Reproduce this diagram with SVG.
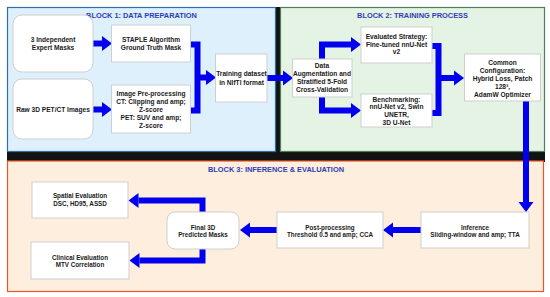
<svg xmlns="http://www.w3.org/2000/svg" width="550" height="297" viewBox="0 0 550 297">
<defs>
<style>
.t{font-family:"Liberation Sans",Arial,sans-serif;font-weight:bold;font-size:6.6px;fill:#1a1a1a;text-anchor:middle}
.s{font-size:6.3px}
.ttl{font-family:"Liberation Sans",Arial,sans-serif;font-weight:bold;font-size:7.4px;fill:#2e3cb8;text-anchor:middle}
.n{fill:#ffffff;stroke:#cfcfcf;stroke-width:1}
.c{fill:none;stroke:#0000ee;stroke-width:6;stroke-linejoin:miter}
</style>
<marker id="ah" markerUnits="userSpaceOnUse" markerWidth="10" markerHeight="15" refX="0" refY="7.5" orient="auto" overflow="visible">
<path d="M0,0 L10,7.5 L0,15 Z" fill="#0000ee"/>
</marker>
</defs>
<rect x="0" y="0" width="550" height="297" fill="#ffffff"/>
<rect x="7" y="7" width="538" height="155" fill="#121212"/>
<g id="block1">
<rect x="7.5" y="7.5" width="268" height="144" fill="#ddf0fb" stroke="#2f6fb0" stroke-width="1.2"/>
<text class="ttl" x="141.5" y="18">BLOCK 1: DATA PREPARATION</text>
</g>
<g id="block2">
<rect x="280.5" y="7.5" width="264" height="144" fill="#e5f3e5" stroke="#4f7d55" stroke-width="1.2"/>
<text class="ttl" x="412.5" y="18">BLOCK 2: TRAINING PROCESS</text>
</g>
<g id="block3">
<rect x="7.5" y="161" width="536" height="130.5" fill="#fdeedd" stroke="#e6582a" stroke-width="1.2"/>
<text class="ttl" x="276" y="172">BLOCK 3: INFERENCE &amp; EVALUATION</text>
</g>
<g id="connectors">
<path class="c" d="M93,43.5 H102" marker-end="url(#ah)"/>
<path class="c" d="M93,109.5 H102" marker-end="url(#ah)"/>
<path class="c" d="M190,44.5 H197.5 V110.5 H190"/>
<path class="c" d="M197.5,77.5 H206" marker-end="url(#ah)"/>
<path class="c" d="M267,78 H283" marker-end="url(#ah)"/>
<path class="c" d="M322,59 V44.5 H351" marker-end="url(#ah)"/>
<path class="c" d="M322,97 V110.5 H351" marker-end="url(#ah)"/>
<path class="c" d="M432,46 H438.5 V113 H432"/>
<path class="c" d="M438.5,78 H454" marker-end="url(#ah)"/>
<path class="c" d="M526,101 V202" stroke-width="5" marker-end="url(#ah)"/>
<path class="c" d="M421,230 H393" marker-end="url(#ah)"/>
<path class="c" d="M277,230 H250" marker-end="url(#ah)"/>
<path class="c" d="M202.5,212 V200.5 H138.5" marker-end="url(#ah)"/>
<path class="c" d="M202.5,248 V260.5 H139.5" marker-end="url(#ah)"/>
</g>
<g id="expert-masks">
<rect class="n" x="13" y="15" width="80" height="57" rx="9"/>
<text class="t" x="53" y="41.8">3 Independent</text>
<text class="t" x="53" y="50.1">Expert Masks</text>
</g>
<g id="raw-images">
<rect class="n" x="13" y="79" width="80" height="60" rx="9"/>
<text class="t" x="53" y="111.6">Raw 3D PET/CT Images</text>
</g>
<g id="staple">
<rect class="n" x="111.5" y="25" width="79" height="37"/>
<text class="t" x="151" y="41.8">STAPLE Algorithm</text>
<text class="t" x="151" y="50.1">Ground Truth Mask</text>
</g>
<g id="preprocessing">
<rect class="n" x="111.5" y="85" width="79" height="48"/>
<text class="t" x="151" y="96.4">Image Pre-processing</text>
<text class="t" x="151" y="104.3">CT: Clipping and amp;</text>
<text class="t" x="151" y="112.2">Z-score</text>
<text class="t" x="151" y="120.1">PET: SUV and amp;</text>
<text class="t" x="151" y="128">Z-score</text>
</g>
<g id="training-dataset">
<rect class="n" x="215.5" y="54" width="51.5" height="48"/>
<text class="t" x="241.5" y="76.4">Training dataset</text>
<text class="t" x="241.5" y="84.7">in NIfTI format</text>
</g>
<g id="data-augmentation">
<rect class="n" x="292.5" y="59" width="59.5" height="38"/>
<text class="t" x="322" y="68.4">Data</text>
<text class="t" x="322" y="76.4">Augmentation and</text>
<text class="t" x="322" y="84.4">Stratified 5-Fold</text>
<text class="t" x="322" y="92.4">Cross-Validation</text>
</g>
<g id="evaluated-strategy">
<rect class="n" x="361" y="27" width="71" height="36"/>
<text class="t" x="396.5" y="39">Evaluated Strategy:</text>
<text class="t" x="396.5" y="46.8">Fine-tuned nnU-Net</text>
<text class="t" x="396.5" y="54.4">v2</text>
</g>
<g id="benchmarking">
<rect class="n" x="361" y="94" width="71" height="33"/>
<text class="t" x="396.5" y="101.7">Benchmarking:</text>
<text class="t" x="396.5" y="109.3">nnU-Net v2, Swin</text>
<text class="t" x="396.5" y="117.3">UNETR,</text>
<text class="t" x="396.5" y="125.1">3D U-Net</text>
</g>
<g id="common-configuration">
<rect class="n" x="464.5" y="54" width="76" height="47"/>
<text class="t" x="502.5" y="64.7">Common</text>
<text class="t" x="502.5" y="72.7">Configuration:</text>
<text class="t" x="502.5" y="80.7">Hybrid Loss, Patch</text>
<text class="t" x="502.5" y="88.7">128³,</text>
<text class="t" x="502.5" y="96.7">AdamW Optimizer</text>
</g>
<g id="inference">
<rect class="n" x="421" y="212" width="108" height="36"/>
<text class="t s" x="475" y="229.6">Inference</text>
<text class="t s" x="475" y="237.3">Sliding-window and amp; TTA</text>
</g>
<g id="post-processing">
<rect class="n" x="277" y="212" width="106" height="36"/>
<text class="t s" x="330" y="229.6">Post-processing</text>
<text class="t s" x="330" y="237.3">Threshold 0.5 and amp; CCA</text>
</g>
<g id="final-masks">
<rect class="n" x="167" y="212" width="72" height="37" rx="8"/>
<text class="t s" x="203" y="229.6">Final 3D</text>
<text class="t s" x="203" y="237.3">Predicted Masks</text>
</g>
<g id="spatial-evaluation">
<rect class="n" x="32" y="182" width="96" height="36"/>
<text class="t s" x="80" y="198">Spatial Evaluation</text>
<text class="t s" x="80" y="206.3">DSC, HD95, ASSD</text>
</g>
<g id="clinical-evaluation">
<rect class="n" x="31" y="242" width="98" height="37"/>
<text class="t s" x="80" y="259.6">Clinical Evaluation</text>
<text class="t s" x="80" y="267.3">MTV Correlation</text>
</g>
</svg>
